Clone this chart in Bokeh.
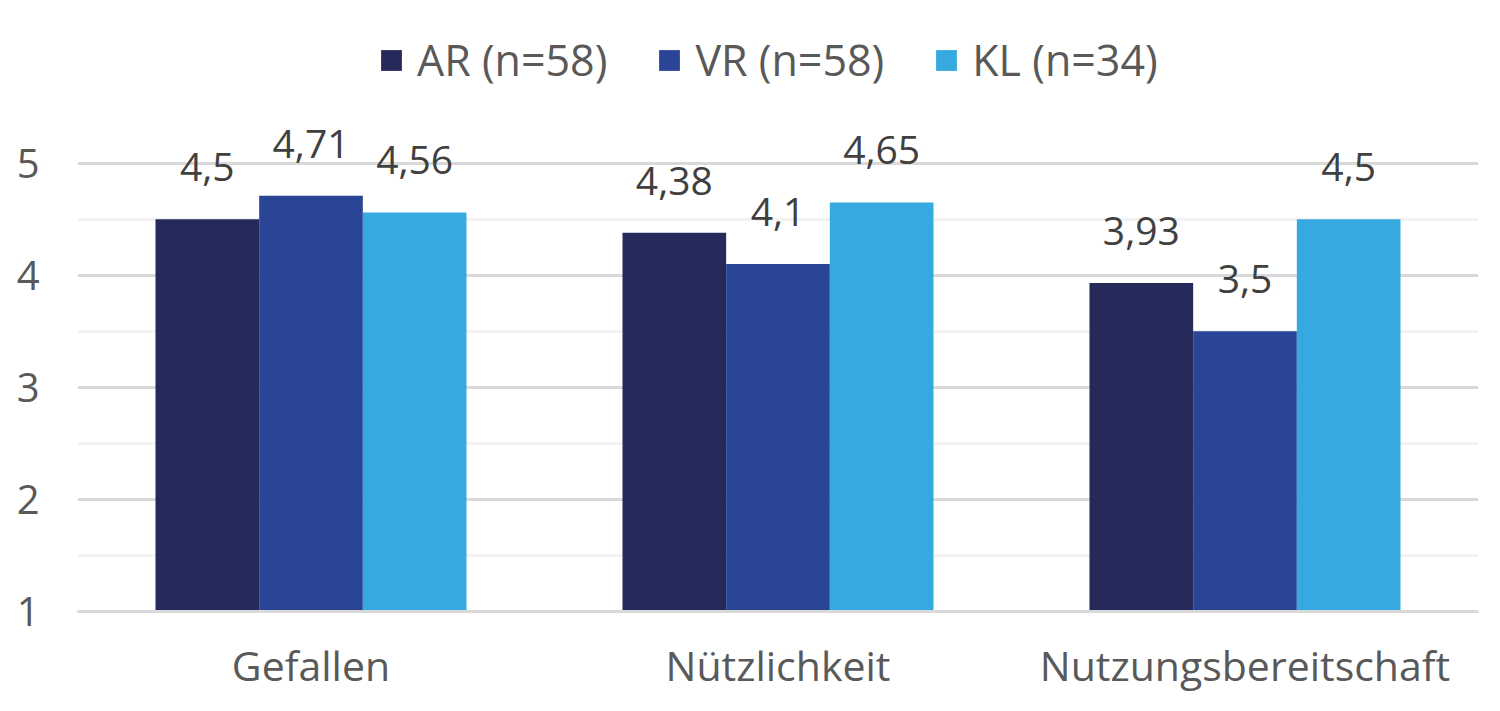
from bokeh.plotting import figure
from bokeh.models import ColumnDataSource, FactorRange, Range1d, FixedTicker, Legend, LegendItem, LabelSet
from bokeh.transform import dodge
from bokeh.core.properties import value
from bokeh.embed import file_html
from bokeh.resources import INLINE

categories = ["Gefallen", "Nützlichkeit", "Nutzungsbereitschaft"]
series = ["AR (n=58)", "VR (n=58)", "KL (n=34)"]
ar = [4.5, 4.38, 3.93]
vr = [4.71, 4.1, 3.5]
kl = [4.56, 4.65, 4.5]
colors = ["#262A5A", "#2A4596", "#36A9E0"]
y_ticks = [1, 2, 3, 4, 5]
y_minor = [1.5, 2.5, 3.5, 4.5]

def fmt(v):
    s = ("%.2f" % v).rstrip("0").rstrip(".")
    return s.replace(".", ",")

src = ColumnDataSource(dict(
    cat=categories, ar=ar, vr=vr, kl=kl,
    ar_l=[fmt(v) for v in ar], vr_l=[fmt(v) for v in vr], kl_l=[fmt(v) for v in kl],
    base=[1] * len(categories),
))

FONT = "Open Sans"
p = figure(width=1484, height=695, x_range=FactorRange(*categories, range_padding=0),
           y_range=Range1d(1, 6.38), output_backend="svg", toolbar_location=None,
           min_border_left=77, min_border_right=6, min_border_top=8, min_border_bottom=83)
p.outline_line_color = None
p.background_fill_color = "white"

bw = 0.222
cols = ["ar", "vr", "kl"]
offs = [-bw, 0, bw]
items = []
for c, o, col, name in zip(cols, offs, colors, series):
    r = p.vbar(x=dodge("cat", o, range=p.x_range), top=c, bottom="base", width=bw,
               source=src, fill_color=col, line_color=None)
    items.append(LegendItem(label=name, renderers=[r]))
    lbl = LabelSet(x=dodge("cat", o, range=p.x_range), y=c, text=c + "_l", source=src,
                   text_align="center", text_baseline="alphabetic", y_offset=38,
                   text_font=value(FONT), text_font_size="39px", text_color="#404040")
    p.add_layout(lbl)

legend = Legend(items=items, orientation="horizontal", location=(301, 522),
                label_text_font=FONT, label_text_font_size="43px", label_text_color="#595959",
                glyph_width=26, glyph_height=26, spacing=49, label_standoff=13,
                border_line_color=None, background_fill_alpha=0, padding=0, margin=0)
p.add_layout(legend, "center")

p.yaxis.ticker = FixedTicker(ticks=y_ticks, minor_ticks=y_minor)
p.ygrid.grid_line_color = "#D9D9D9"
p.ygrid.grid_line_width = 3
p.ygrid.minor_grid_line_color = "#F2F2F2"
p.ygrid.minor_grid_line_width = 3
p.xgrid.grid_line_color = None

p.yaxis.axis_line_color = None
p.yaxis.major_tick_line_color = None
p.yaxis.minor_tick_line_color = None
p.yaxis.major_tick_out = 0
p.yaxis.minor_tick_out = 0
p.yaxis.major_label_standoff = 38
p.yaxis.major_label_text_font = FONT
p.yaxis.major_label_text_font_size = "40px"
p.yaxis.major_label_text_color = "#595959"

p.xaxis.axis_line_color = "#D9D9D9"
p.xaxis.axis_line_width = 3
p.xaxis.major_tick_line_color = None
p.xaxis.minor_tick_line_color = None
p.xaxis.major_tick_out = 0
p.xaxis.minor_tick_out = 0
p.xaxis.major_label_standoff = 25
p.xaxis.major_label_text_font = FONT
p.xaxis.major_label_text_font_size = "41px"
p.xaxis.major_label_text_color = "#595959"

open("out.html", "w").write(file_html(p, INLINE))
